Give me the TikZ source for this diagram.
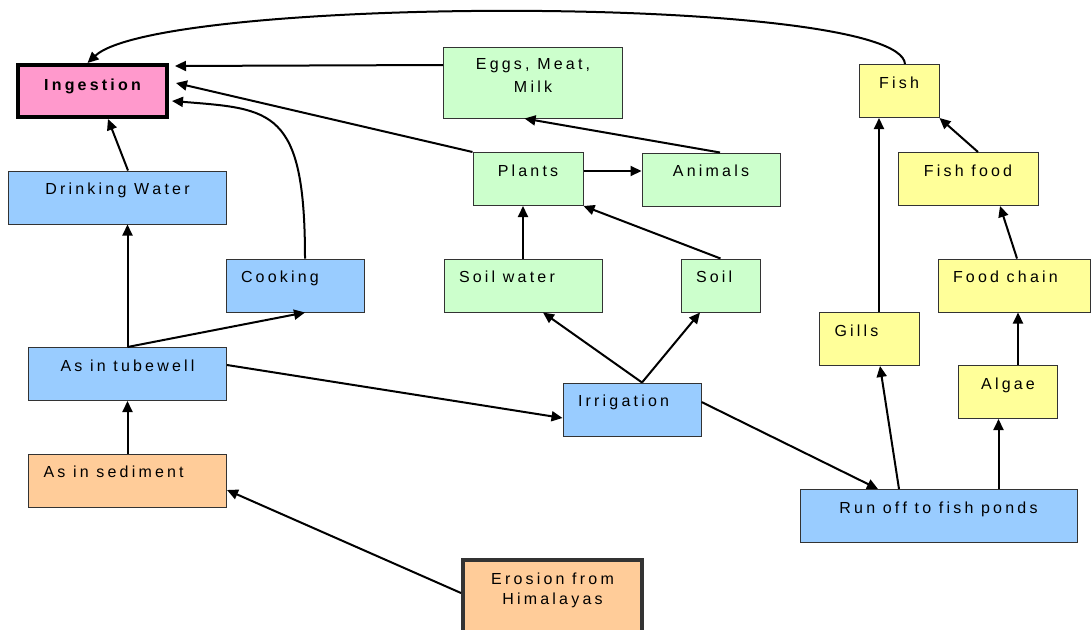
\documentclass[tikz,border=0pt]{standalone}
\usepackage{fontspec}
\setmainfont{Liberation Sans}
\usepackage{tikz}
\usetikzlibrary{arrows.meta}
\definecolor{pinkfill}{HTML}{FF99CC}
\definecolor{greenfill}{HTML}{CCFFCC}
\definecolor{yellowfill}{HTML}{FFFF99}
\definecolor{bluefill}{HTML}{99CCFF}
\definecolor{orangefill}{HTML}{FFCC99}
\definecolor{border}{HTML}{333333}
% widely spaced letters, as in the drawing
\ExplSyntaxOn
\cs_new_protected:Npn \diag_spaced_word:n #1
  { \tl_map_inline:nn {#1} { ##1 \kern .2em } \unkern }
\NewDocumentCommand \spaced { m }
  {
    \seq_set_split:Nnn \l_tmpa_seq { ~ } {#1}
    \seq_map_indexed_inline:Nn \l_tmpa_seq
      { \int_compare:nNnT {##1} > {1} { \hspace{.48em} } \diag_spaced_word:n {##2} }
  }
\ExplSyntaxOff

\begin{document}
\begin{tikzpicture}[x=1pt, y=-1pt, >={Triangle[length=11pt,width=10pt]}]
        \tikzstyle{block} = [rectangle, draw=border, line width=1pt, inner xsep=15pt, inner ysep=0pt, text height=23.5pt, text depth=29.5pt, align=center, font=\fontsize{16}{21.5}\selectfont]
        \tikzstyle{keyblock} = [block, line width=4pt]
        \tikzstyle{link} = [draw, ->, line width=2pt, color=black]
        \useasboundingbox (0,0) rectangle (1091,629);

        % left column
        \node [keyblock, draw=black, fill=pinkfill, text width=119pt, text height=25pt, text depth=27pt, font=\fontsize{16}{21.5}\selectfont\bfseries] (ingestion) at (92.5,91) {\spaced{Ingestion}};
        \node [block, fill=bluefill, text width=188pt] (drinking) at (117.5,197.5) {\spaced{Drinking Water}};
        \node [block, fill=bluefill, text width=108pt, align=left] (cooking) at (295,285.5) {\spaced{Cooking}};
        \node [block, fill=bluefill, text width=168pt] (tubewell) at (127.5,374) {\spaced{As in tubewell}};
        \node [block, fill=orangefill, text width=168pt, align=left] (sediment) at (127.5,480.5) {\spaced{As in sediment}};
        \node [keyblock, fill=orangefill, text width=149pt, text height=24.3pt, text depth=47.7pt, font=\fontsize{16}{20}\selectfont] (erosion) at (552.5,596) {\spaced{Erosion from}\\\spaced{Himalayas}};

        % middle
        \node [block, fill=greenfill, text width=149pt, text height=22.3pt, text depth=48.7pt, font=\fontsize{16}{22.7}\selectfont] (eggs) at (533,82.5) {\spaced{Eggs, Meat,}\\\spaced{Milk}};
        \node [block, fill=greenfill, text width=80pt] (plants) at (528,179) {\spaced{Plants}};
        \node [block, fill=greenfill, text width=108pt] (animals) at (711,179.5) {\spaced{Animals}};
        \node [block, fill=greenfill, text width=128pt, align=left] (soilwater) at (523,285.5) {\spaced{Soil water}};
        \node [block, fill=greenfill, text width=49pt, align=left] (soil) at (720.5,285.5) {\spaced{Soil}};
        \node [block, fill=bluefill, text width=108pt, align=left] (irrigation) at (632,409.5) {\spaced{Irrigation}};

        % right column
        \node [block, fill=yellowfill, text width=50pt] (fish) at (899,91) {\spaced{Fish}};
        \node [block, fill=yellowfill, text width=110pt] (fishfood) at (968,179) {\spaced{Fish food}};
        \node [block, fill=yellowfill, text width=122pt, align=left] (foodchain) at (1014,285.5) {\spaced{Food chain}};
        \node [block, fill=yellowfill, text width=70pt, align=left] (gills) at (869.5,339) {\spaced{Gills}};
        \node [block, fill=yellowfill, text width=69pt] (algae) at (1008,392) {\spaced{Algae}};
        \node [block, fill=bluefill, text width=247pt] (runoff) at (938.5,516) {\spaced{Run off to fish ponds}};

        \path [link] ([xshift=6pt]fish.north) .. controls +(-5,-70) and +(73,-68) .. ([xshift=-5pt]ingestion.north);
        \path [link] ([yshift=17.5pt]eggs.west) -- ([xshift=6pt,yshift=25pt]ingestion.east);
        \path [link] (plants.north west) -- ([xshift=7pt,yshift=8pt]ingestion.east);
        \path [link] ([xshift=10pt]cooking.north) .. controls +(0,-150) and +(100,8) .. ([xshift=3pt,yshift=-10pt]ingestion.east);
        \path [link] ([xshift=10.5pt]drinking.north) -- ([xshift=15.5pt]ingestion.south);
        \path [link] (tubewell.north) -- (tubewell.north |- drinking.south);
        \path [link] (tubewell.north) -- ([xshift=10pt]cooking.south);
        \path [link] ([yshift=9pt]tubewell.east) -- ([yshift=-8.5pt]irrigation.west);
        \path [link] (sediment.north) -- (tubewell.south);
        \path [link] ([yshift=3pt]erosion.west) -- ([yshift=-9.5pt]sediment.east);
        \path [link] ([xshift=10pt]irrigation.north) -- ([xshift=20pt]soilwater.south);
        \path [link] ([xshift=10pt]irrigation.north) -- ([xshift=-20.5pt]soil.south);
        \path [link] ([yshift=7.5pt]irrigation.east) -- ([xshift=-60.5pt]runoff.north);
        \path [link] (soilwater.north) -- (soilwater.north |- plants.south);
        \path [link] (soil.north) -- (plants.south east);
        \path [link] ([yshift=8pt]plants.east) -- ([yshift=8pt]plants.east -| animals.west);
        \path [link] ([xshift=9pt]animals.north) -- ([xshift=-8.5pt]eggs.south);
        \path [link] ([xshift=-39.5pt]runoff.north) -- ([xshift=10.5pt]gills.south);
        \path [link] ([xshift=60pt]runoff.north) -- ([xshift=60pt]runoff.north |- algae.south);
        \path [link] ([xshift=9.5pt]gills.north) -- ([xshift=9.5pt]gills.north |- fish.south);
        \path [link] ([xshift=10pt]algae.north) -- ([xshift=10pt]algae.north |- foodchain.south);
        \path [link] ([xshift=3pt]foodchain.north) -- ([xshift=32pt]fishfood.south);
        \path [link] ([xshift=10pt]fishfood.north) -- (fish.south east);
    \end{tikzpicture}
\end{document}
